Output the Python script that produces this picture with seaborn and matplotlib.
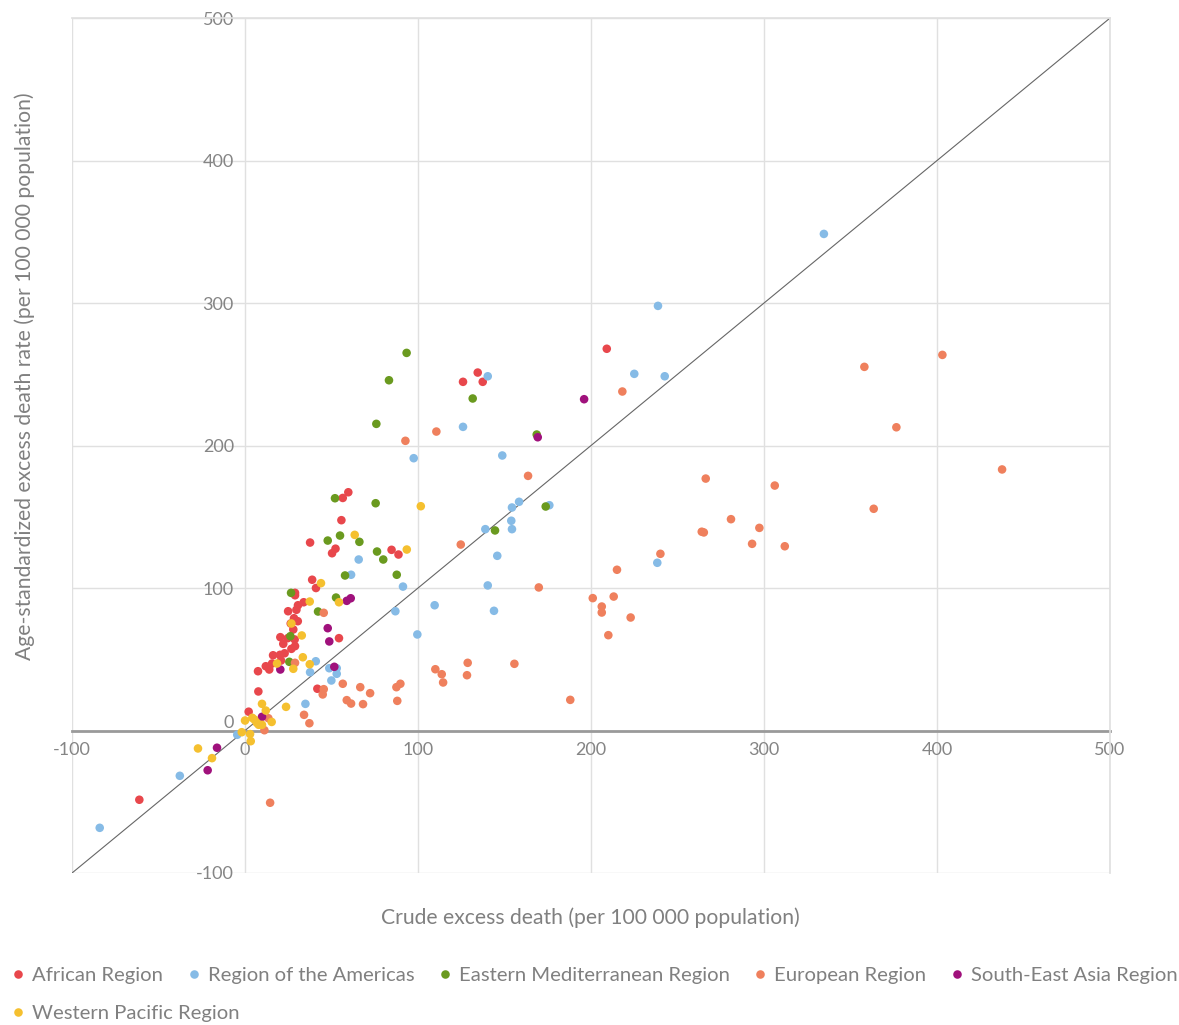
import numpy as np
import pandas as pd
import seaborn as sns
import matplotlib.pyplot as plt

sns.set_theme(style='white')
plt.rcParams['font.family'] = ['Lato', 'DejaVu Sans']
plt.rcParams['axes.unicode_minus'] = False

regions = ['African Region', 'Region of the Americas', 'Eastern Mediterranean Region',
           'European Region', 'South-East Asia Region', 'Western Pacific Region']
colors = ['#e8474c', '#86bbe6', '#6a9a1f', '#ef805d', '#a0117c', '#f5c02f']

# (crude, age-standardized) per region
afr_x = [-61.1, 209.1, 134.5, 126.0, 137.4, 59.7, 56.5, 55.7, 37.6, 52.3, 50.3, 84.7, 88.7, 38.8,
         41.0, 28.9, 28.9, 30.6, 29.7, 33.9, 24.9, 28.3, 30.5, 26.4, 27.9, 20.4, 24.7, 28.7, 22.1,
         26.8, 28.9, 54.3, 20.2, 22.9, 16.2, 20.8, 15.6, 12.0, 14.0, 7.5, 7.7, 2.1, 41.8]
afr_y = [-48.6, 267.9, 251.2, 244.7, 244.7, 167.2, 163.2, 147.6, 131.9, 127.6, 124.4, 126.8, 123.5,
         105.8, 100.0, 96.6, 94.9, 87.9, 84.7, 90.0, 83.7, 78.8, 76.7, 75.1, 70.9, 65.5, 64.8, 63.9,
         60.8, 57.3, 59.2, 64.8, 53.1, 54.2, 52.8, 49.1, 47.0, 45.1, 42.8, 41.6, 27.4, 13.2, 29.3]

amr_x = [-84.0, -37.7, -4.5, 97.5, 65.7, 61.3, 91.3, 86.9, 99.6, 40.9, 37.6, 48.7, 53.0, 53.0, 49.9,
         34.9, 140.3, 126.0, 148.7, 154.3, 158.4, 175.9, 153.9, 154.3, 138.9, 145.8, 140.3, 109.6,
         143.9, 238.7, 225.0, 242.6, 238.3, 334.6]
amr_y = [-68.3, -31.8, -3.0, 191.1, 120.0, 109.3, 101.0, 83.7, 67.4, 48.6, 40.9, 43.7, 43.7, 39.8,
         35.1, 18.7, 248.6, 213.1, 193.0, 156.5, 160.5, 158.1, 147.2, 141.3, 141.3, 122.6, 101.8,
         87.9, 84.0, 298.0, 250.3, 248.6, 117.7, 348.5]

emr_x = [93.4, 83.2, 131.6, 75.9, 168.6, 52.0, 75.5, 173.8, 144.5, 47.8, 54.9, 66.1, 76.3, 79.9,
         57.8, 87.7, 52.6, 42.2, 26.6, 26.2, 25.6]
emr_y = [265.0, 245.8, 233.0, 215.2, 207.7, 163.0, 159.5, 157.2, 140.4, 133.3, 136.8, 132.4, 125.6,
         120.0, 108.8, 109.3, 93.3, 83.5, 96.6, 66.2, 48.2]

eur_x = [358.0, 403.1, 376.5, 437.6, 363.4, 218.1, 266.3, 306.2, 163.6, 280.9, 264.0, 265.2, 297.3,
         293.1, 312.0, 240.1, 215.0, 169.8, 201.0, 213.1, 206.2, 206.2, 222.9, 210.0, 155.7, 188.0,
         92.7, 110.6, 124.7, 45.5, 128.7, 110.0, 113.7, 128.3, 114.5, 56.5, 66.6, 87.5, 89.8, 45.5,
         44.9, 72.3, 58.8, 61.3, 68.2, 88.0, 34.1, 37.2, 28.9, 13.5, 11.2, 14.5]
eur_y = [255.2, 263.6, 212.8, 183.2, 155.6, 237.9, 176.8, 171.9, 178.7, 148.3, 139.5, 139.0, 142.2,
         131.0, 129.3, 124.0, 112.8, 100.4, 92.9, 94.0, 87.0, 82.8, 79.3, 66.9, 46.8, 21.5, 203.3,
         209.8, 130.5, 82.6, 47.5, 43.0, 39.5, 38.8, 33.7, 32.8, 30.4, 30.4, 32.8, 29.0, 25.3, 26.2,
         21.3, 18.9, 18.5, 20.8, 11.0, 5.1, 47.5, 8.6, 0.2, -50.7]

sear_x = [196.0, 169.2, 61.1, 58.8, 47.8, 48.7, 51.6, 20.4, 9.8, -16.2, -21.6]
sear_y = [232.5, 205.8, 92.8, 91.0, 71.8, 62.5, 44.7, 42.8, 9.6, -12.1, -27.9]

wpr_x = [101.6, 63.4, 93.5, 43.9, 37.4, 54.3, 32.8, 33.4, 37.4, 26.8, 18.5, 27.9, 23.7, 9.8, 12.0,
         0.0, 4.2, 5.4, 6.8, 7.9, 9.8, 15.4, -1.9, 2.9, 3.3, -27.2, -19.1]
wpr_y = [157.4, 137.3, 127.0, 103.4, 90.5, 90.0, 66.7, 51.4, 46.5, 75.1, 47.0, 43.3, 16.6, 18.7, 14.0,
         7.0, 8.9, 7.7, 5.4, 4.0, 4.0, 6.0, -1.2, -2.5, -7.5, -12.6, -19.4]

xs = [afr_x, amr_x, emr_x, eur_x, sear_x, wpr_x]
ys = [afr_y, amr_y, emr_y, eur_y, sear_y, wpr_y]
df = pd.concat([pd.DataFrame({'crude': x, 'age_std': y, 'region': r})
                for x, y, r in zip(xs, ys, regions)], ignore_index=True)

fig = plt.figure(figsize=(11.79, 10.25), dpi=100)
ax = fig.add_axes([0.0611, 0.1483, 0.8804, 0.8341])

ax.plot([-100, 500], [-100, 500], color='#666666', lw=0.8, zorder=1)
sns.scatterplot(data=df, x='crude', y='age_std', hue='region', hue_order=regions,
                palette=colors, s=38, linewidth=0, ax=ax, zorder=3)

ax.set_xlim(-100, 500)
ax.set_ylim(-100, 500)
ticks = np.arange(-100, 501, 100)
ax.set_xticks(ticks)
ax.set_yticks(ticks)
ax.grid(True, color='#e0e0e0', lw=1)
ax.set_axisbelow(True)

ax.spines['left'].set_position(('data', 0))
ax.spines['left'].set_color('none')
ax.spines['bottom'].set_position(('data', 0))
ax.spines['bottom'].set_color('#9a9a9a')
ax.spines['bottom'].set_linewidth(2)
ax.spines['bottom'].set_zorder(2)
for s in ['top', 'right']:
    ax.spines[s].set_color('#e0e0e0')
ax.tick_params(axis='both', length=0, labelsize=13, labelcolor='#858585')
ax.tick_params(axis='y', pad=8)
ax.tick_params(axis='x', pad=8)
for lab in ax.get_yticklabels():
    if lab.get_text() == '0':
        lab.set_va('bottom')

ax.set_xlabel('')
ax.set_ylabel('')
fig.text(0.501, 0.105, 'Crude excess death (per 100 000 population)', ha='center', va='center',
         fontsize=15.2, color='#808080')
fig.text(0.021, 0.633, 'Age-standardized excess death rate (per 100 000 population)', ha='center',
         va='center', rotation=90, fontsize=15.2, color='#808080')

handles, labels = ax.get_legend_handles_labels()
ax.get_legend().remove()
kw = dict(frameon=False, fontsize=14.6, labelcolor='#808080', handlelength=0.5, handletextpad=0.45,
          columnspacing=1.25, borderaxespad=0, borderpad=0)
fig.legend(handles[:5], labels[:5], ncol=5, loc='center left', bbox_to_anchor=(0.011, 0.048), **kw)
fig.legend(handles[5:], labels[5:], ncol=1, loc='center left', bbox_to_anchor=(0.011, 0.011), **kw)

fig.savefig('out.png', dpi=100)
